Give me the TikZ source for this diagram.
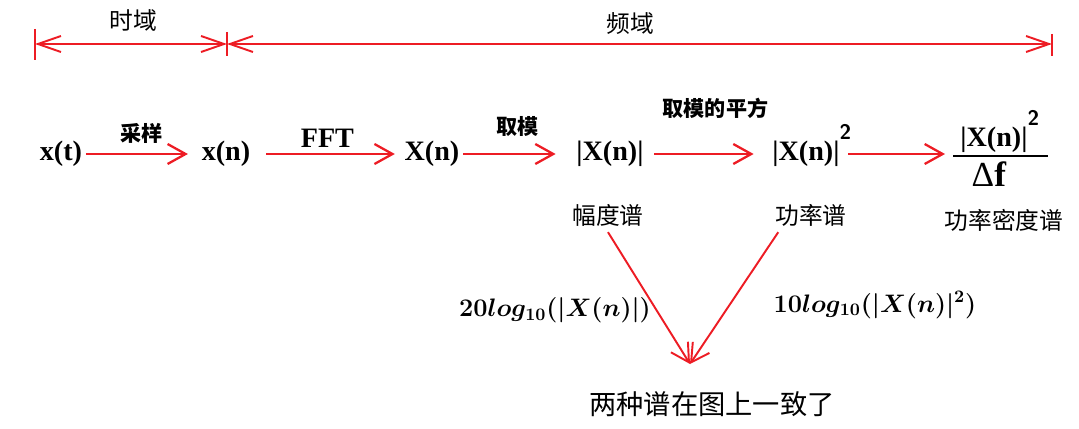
\documentclass[tikz,border=0pt]{standalone}
\usepackage{amsmath}
\usepackage{bm}
\usepackage{fontspec}
\setmainfont{Liberation Serif}
\newfontfamily\cjk{Noto Sans CJK SC}
\usetikzlibrary{arrows.meta,calc}
\definecolor{arrred}{RGB}{237,28,36}

\newcommand{\sqsup}{\rlap{\smash{\raisebox{0.75em}{\fontsize{12}{12}\selectfont\sffamily\bfseries 2}}}}

\begin{document}
\begin{tikzpicture}[x=0.02cm,y=-0.02cm,
    sig/.style={font=\fontsize{16}{19}\selectfont\bfseries,inner sep=2pt,text=black},
    op/.style={font=\cjk\bfseries\fontsize{12}{14}\selectfont,text=black},
    zh/.style={font=\cjk\fontsize{13.5}{16}\selectfont},
    flow/.style={arrred,line width=1.3pt,-{Straight Barb[length=0.36cm,width=0.4cm]}},
    span/.style={arrred,line width=1.1pt}]
    \useasboundingbox (0,0) rectangle (1079,429);

    % time domain / frequency domain
    \coordinate (tl) at (35,44);
    \coordinate (tm) at (227,44);
    \coordinate (tr) at (1052,44);
    \draw [span] (tl) ++(0,-15) -- ++(0,31);
    \draw [span] (tm) ++(0,-12) -- ++(0,24);
    \draw [span] (tr) ++(0,-10) -- ++(0,22);
    \draw [span,{Straight Barb[length=0.46cm,width=0.32cm]}-{Straight Barb[length=0.46cm,width=0.32cm]}] (tl) -- (tm);
    \draw [span,{Straight Barb[length=0.46cm,width=0.32cm]}-{Straight Barb[length=0.46cm,width=0.32cm]}] (tm) -- (tr);
    \node [zh] (time) at (133,20) {时域};
    \node [zh] (freq) at (630,24) {频域};

    % signal chain
    \node [sig] (xt) at (61,154) {x(t)};
    \node [sig] (xn) at (226,154) {x(n)};
    \node [sig] (Xn) at (432,154) {X(n)};
    \node [sig] (absX) at (610,154) {|X(n)|};
    \node [sig] (powX) at (806,154) {|X(n)|\sqsup};

    % power density as a fraction
    \coordinate (barL) at (953,156);
    \coordinate (barR) at (1048,156);
    \draw [line width=1.6pt] (barL) -- (barR);
    \node [sig] (psdnum) at (994,140) {|X(n)|\sqsup};
    \node [font=\fontsize{20}{22}\selectfont] (psdden) at (989,174) {Δ\textbf{f}};

    \draw [flow,shorten >=0.2cm] (xt) -- node[op,above=2pt] (samp) {采样} (xn);
    \draw [flow,shorten <=0.24cm,shorten >=0.12cm] (xn) -- node[sig,above=1pt] (fft) {FFT} (Xn);
    \draw [flow,shorten >=0.34cm] (Xn) -- node[op,above=6pt] (mod) {取模} (absX);
    \draw [flow,shorten <=0.14cm,shorten >=0.3cm] (absX) -- node[op,above=16pt,xshift=0.15cm] (modsq) {取模的平方} (powX);
    \draw [flow,shorten <=0.1cm,shorten >=0.16cm] (powX) -- (powX -| barL);

    % spectra
    \node [zh] (amp) at (608,215) {幅度谱};
    \node [zh] (pow) at (811,215) {功率谱};
    \node [zh] (pden) at (1004,220) {功率密度谱};

    \coordinate (meet) at (690,364);
    \draw [flow,line width=1.1pt] (amp.south) -- (meet);
    \draw [flow,line width=1.1pt] ($(pow.south west)+(9,0)$) -- (meet);
    \node [font=\fontsize{14}{16}\selectfont\boldmath] (dbA) at (555,310) {$20log_{10}(|X(n)|)$};
    \node [font=\fontsize{14}{16}\selectfont\boldmath] (dbP) at (875,305) {$10log_{10}(|X(n)|^2)$};
    \node [font=\cjk\fontsize{15.5}{18}\selectfont] (same) at (712,404) {两种谱在图上一致了};
\end{tikzpicture}
\end{document}
